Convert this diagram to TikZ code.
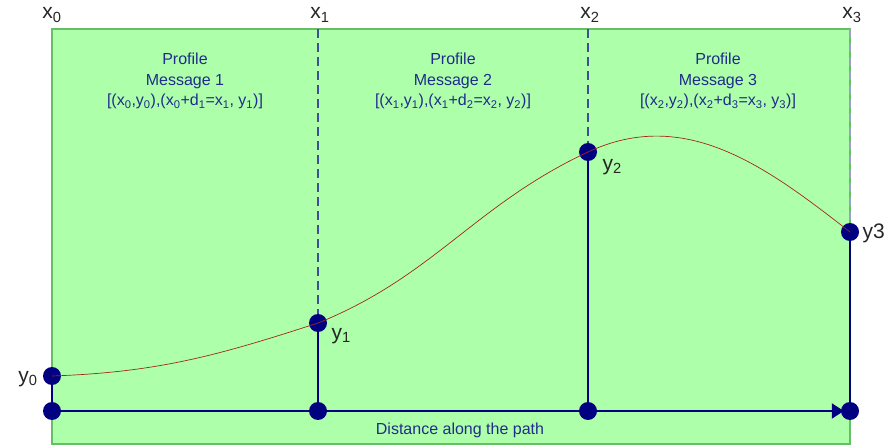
\documentclass[tikz,border=0pt]{standalone}
\usepackage{fontspec}
\setmainfont{Liberation Sans}
\usetikzlibrary{arrows.meta}
\definecolor{paneGreen}{RGB}{174,255,170}
\definecolor{paneEdge}{RGB}{102,190,102}
\definecolor{navyDot}{RGB}{0,0,128}
\definecolor{navyText}{RGB}{32,44,140}
\definecolor{curveRed}{RGB}{160,40,20}
\tikzset{
  dot/.style={circle, fill=navyDot, inner sep=0pt, minimum size=18pt},
  axislabel/.style={font=\fontsize{21}{24}\selectfont, text=black!85},
  msgtext/.style={font=\fontsize{16}{20.5}\selectfont, text=navyText, align=center},
  conn/.style={draw=navyDot, line width=2.4pt},
  guide/.style={draw=navyText!85, line width=1.3pt, dash pattern=on 9pt off 5pt}
}
\begin{document}
\begin{tikzpicture}[x=1pt, y=-1pt, >=Stealth]
  \useasboundingbox (0,0) rectangle (895,446);
  \fill[paneGreen] (52,29) rectangle (850,444);
  \draw[paneEdge, line width=1.5pt] (52,29) rectangle (850,444);
  % tops of the section lines
  \coordinate (t1) at (318,29);
  \coordinate (t2) at (588,29);
  \coordinate (t3) at (850,29);
  \node[axislabel] (lx0) at (52,15) {x\textsubscript{0}};
  \node[axislabel] (lx1) at (320,15) {x\textsubscript{1}};
  \node[axislabel] (lx2) at (590,15) {x\textsubscript{2}};
  \node[axislabel] (lx3) at (852,15) {x\textsubscript{3}};
  % profile messages
  \node[msgtext] (m1) at (185,81) {Profile\\Message 1\\{[}(x\textsubscript{0},y\textsubscript{0}),(x\textsubscript{0}+d\textsubscript{1}=x\textsubscript{1}, y\textsubscript{1})]};
  \node[msgtext] (m2) at (453,81) {Profile\\Message 2\\{[}(x\textsubscript{1},y\textsubscript{1}),(x\textsubscript{1}+d\textsubscript{2}=x\textsubscript{2}, y\textsubscript{2})]};
  \node[msgtext] (m3) at (718,81) {Profile\\Message 3\\{[}(x\textsubscript{2},y\textsubscript{2}),(x\textsubscript{2}+d\textsubscript{3}=x\textsubscript{3}, y\textsubscript{3})]};
  % profile points and distance points
  \node[dot] (y0) at (52,376) {};
  \node[dot] (y1) at (318,323) {};
  \node[dot] (y2) at (588,152) {};
  \node[dot] (y3) at (850,232) {};
  \node[dot] (b0) at (52,411) {};
  \node[dot] (b1) at (318,411) {};
  \node[dot] (b2) at (588,411) {};
  \node[dot] (b3) at (850,411) {};
  \node[axislabel, anchor=east] (ly0) at (41,379) {y\textsubscript{0}};
  \node[axislabel, anchor=west] (ly1) at (328,336) {y\textsubscript{1}};
  \node[axislabel, anchor=west] (ly2) at (599,167) {y\textsubscript{2}};
  \node[axislabel, anchor=west] (ly3) at (859,233) {y3};
  % section lines
  \draw[guide] (t1) -- (y1);
  \draw[guide] (t2) -- (y2);
  \draw[guide, draw=navyText!45] (t3) -- (y3);
  \draw[conn] (y0) -- (b0);
  \draw[conn] (y1) -- (b1);
  \draw[conn] (y2) -- (b2);
  \draw[conn] (y3) -- (b3);
  \draw[conn, -{Triangle[length=12pt, width=15pt]}, shorten >=-3pt] (b0) -- (b3);
  % height profile
  \draw[curveRed, line width=0.7pt] (y0.center) to[out=2, in=198] (y1.center)
    to[out=22, in=205] (y2.center) to[out=25, in=142] (y3.center);
  \node[msgtext] (dist) at (460,430) {Distance along the path};
\end{tikzpicture}
\end{document}
